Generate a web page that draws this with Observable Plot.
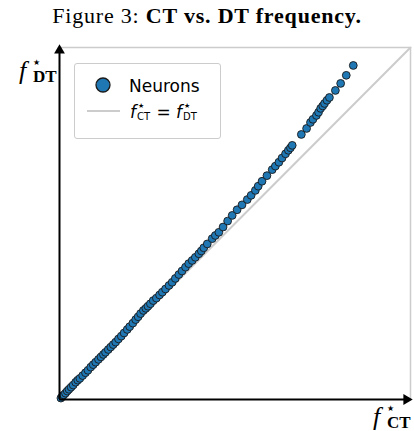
<!DOCTYPE html>
<html><head><meta charset="utf-8">
<script src="https://cdn.jsdelivr.net/npm/d3@7"></script>
<script src="https://cdn.jsdelivr.net/npm/@observablehq/plot@0.6"></script>
<style>
body{margin:0;background:#fff;}
#wrap{position:relative;width:414px;height:431px;overflow:hidden;}
#title{position:absolute;top:3px;left:0;width:414px;text-align:center;font-family:"Liberation Serif",serif;font-size:22px;letter-spacing:0.8px;color:#000;}
#chart{position:absolute;top:30px;left:0;}
.ax{position:absolute;font-family:"Liberation Serif",serif;color:#000;white-space:nowrap;}
.ax span{position:absolute;line-height:1;}
.ax .f{font-style:italic;font-size:26px;left:0;top:0;height:26px;}
.ax .st{font-family:"DejaVu Sans",sans-serif;font-size:8px;left:14px;top:1px;height:8px;}
.ax .sb{font-weight:bold;font-size:17px;left:14px;top:10px;height:17px;}
#legend{position:absolute;left:74px;top:63px;width:145px;height:74px;border:1.5px solid #cccccc;border-radius:3px;background:#fff;font-family:"DejaVu Sans",sans-serif;font-size:17px;color:#000;}
#legend .row{position:absolute;line-height:1;white-space:nowrap;}
.lf{font-style:italic;}
.grp{display:inline-block;position:relative;width:15px;height:17px;vertical-align:top;}
.grp span{position:absolute;left:1px;font-size:10px;line-height:1;height:10px;}
.grp span.s{font-size:7px;height:7px;left:2px;}
</style></head>
<body>
<div id="wrap">
  <div id="title">Figure 3: <b>CT vs. DT frequency.</b></div>
  <div id="chart"></div>
  <div class="ax" style="left:19px;top:58px;width:40px;height:30px;"><span class="f">f</span><span class="st">★</span><span class="sb">DT</span></div>
  <div class="ax" style="left:373px;top:404px;width:40px;height:30px;"><span class="f">f</span><span class="st">★</span><span class="sb">CT</span></div>
  <div id="legend">
    <svg width="145" height="74" style="position:absolute;left:0;top:0;">
      <circle cx="28" cy="21" r="7" fill="#1f77b4" stroke="#1a1a1a" stroke-width="1.3"></circle>
      <line x1="12" x2="45" y1="47" y2="47" stroke="#cccccc" stroke-width="2"></line>
    </svg>
    <div class="row" style="left:54px;top:14px;">Neurons</div>
    <div class="row" style="left:55px;top:40px;"><span class="lf">f</span><span class="grp"><span class="s" style="top:-1px">★</span><span style="top:8px">CT</span></span>&nbsp;=&nbsp;<span class="lf">f</span><span class="grp"><span class="s" style="top:-1px">★</span><span style="top:8px">DT</span></span></div>
  </div>
</div>
<script>
// Domain of both frequency axes (normalised)
const xDomain = [0, 1];
const yDomain = [0, 1];
// Neurons: CT frequency (x) and DT frequency (y)
const fCT = [0.004,0.008,0.012,0.017,0.022,0.027,0.033,0.039,0.046,0.052,0.058,0.066,0.074,0.081,0.089,0.096,0.103,0.111,0.118,0.125,0.131,0.139,0.146,0.153,0.160,0.168,0.176,0.184,0.193,0.200,0.209,0.217,0.224,0.231,0.239,0.246,0.252,0.259,0.267,0.276,0.285,0.293,0.302,0.312,0.321,0.330,0.340,0.349,0.359,0.368,0.378,0.387,0.397,0.404,0.411,0.421,0.435,0.444,0.454,0.466,0.479,0.492,0.506,0.520,0.535,0.546,0.558,0.566,0.577,0.591,0.606,0.615,0.625,0.634,0.644,0.652,0.658,0.663,0.689,0.704,0.715,0.722,0.732,0.738,0.744,0.750,0.755,0.762,0.769,0.786,0.801,0.817,0.837];
const fDT = [0.004,0.009,0.013,0.018,0.024,0.029,0.035,0.041,0.049,0.055,0.060,0.068,0.076,0.083,0.092,0.099,0.106,0.114,0.121,0.128,0.134,0.142,0.149,0.156,0.163,0.172,0.180,0.189,0.199,0.207,0.217,0.227,0.235,0.244,0.253,0.259,0.265,0.272,0.281,0.288,0.297,0.305,0.314,0.324,0.333,0.344,0.355,0.365,0.376,0.386,0.395,0.404,0.414,0.422,0.431,0.442,0.457,0.466,0.475,0.490,0.507,0.523,0.539,0.553,0.568,0.580,0.594,0.606,0.620,0.636,0.653,0.663,0.674,0.686,0.698,0.708,0.715,0.722,0.753,0.770,0.787,0.796,0.807,0.816,0.827,0.834,0.841,0.850,0.858,0.878,0.898,0.921,0.949];

const neurons = fCT.map((x, i) => ({x, y: fDT[i]}));
const diag = xDomain.map((x, i) => ({x, y: yDomain[i]}));
const x0 = xDomain[0], x1 = xDomain[1], y0 = yDomain[0], y1 = yDomain[1];

const chart = Plot.plot({
  width: 414,
  height: 401,
  marginLeft: 59,
  marginRight: 4,
  marginTop: 17,
  marginBottom: 32,
  x: {domain: xDomain, axis: null},
  y: {domain: yDomain, axis: null},
  marks: [
    Plot.ruleY([y1], {stroke: "#cccccc", strokeWidth: 1.5}),
    Plot.ruleX([x1], {stroke: "#cccccc", strokeWidth: 1.5}),
    Plot.line(diag, {x: "x", y: "y", stroke: "#cccccc", strokeWidth: 2}),
    Plot.dot(neurons, {x: "x", y: "y", r: 3.9, fill: "#1f77b4", stroke: "#1a1a1a", strokeWidth: 0.9, clip: false}),
    Plot.ruleX([x0], {stroke: "#000", strokeWidth: 2}),
    Plot.ruleY([y0], {stroke: "#000", strokeWidth: 2, x1: x0, x2: x1}),
    Plot.dot([{x: x0, y: y1}], {x: "x", y: "y", symbol: "triangle", r: 4, fill: "#000", stroke: null, dy: 3}),
    Plot.dot([{x: x1, y: y0}], {x: "x", y: "y", symbol: "triangle", r: 4, fill: "#000", stroke: null, rotate: 90, dx: -4})
  ]
});
document.getElementById("chart").appendChild(chart);
</script>
</body></html>
